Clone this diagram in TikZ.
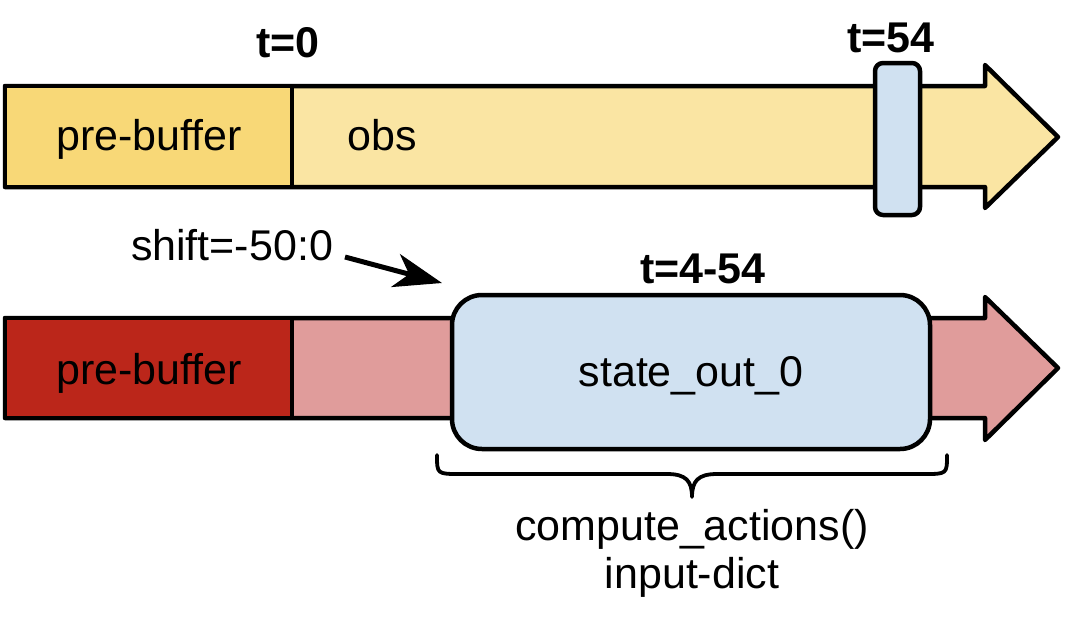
\documentclass[tikz,border=0pt]{standalone}
\usepackage{fontspec}
\setmainfont{Liberation Sans}
\usetikzlibrary{arrows.meta}
\definecolor{preY}{HTML}{F8D877}
\definecolor{obsY}{HTML}{FAE5A3}
\definecolor{preR}{HTML}{BB261A}
\definecolor{obsR}{HTML}{E09C9B}
\definecolor{boxB}{HTML}{D0E1F1}
\tikzset{
  outl/.style={draw=black, line width=4.5pt, line join=round},
  lbl/.style={inner sep=0pt, anchor=base, font=\fontsize{43}{48}\selectfont},
  blbl/.style={lbl, font=\fontsize{43}{48}\selectfont\bfseries},
}
\begin{document}
\begin{tikzpicture}[x=1pt,y=-1pt]
\useasboundingbox (0,0) rectangle (1067,616);
% top timeline
\path[outl, fill=obsY] (5,86) -- (985,86) -- (985,65) -- (1058,137) -- (985,208) -- (985,187) -- (5,187) -- cycle;
\node[outl, fill=preY, minimum width=287pt, minimum height=101pt, inner sep=0pt] (preT) at (148.5,136.5) {};
\node[lbl] (preTt) at (149,150) {pre-buffer};
\node[lbl] (obs) at (382,150) {obs};
\node[outl, fill=boxB, rounded corners=8pt, minimum width=45pt, minimum height=152pt, inner sep=0pt] (mark) at (897.5,139) {};
\node[blbl] (t0) at (288,57) {t=0};
\node[blbl] (t54) at (891,52) {t=54};
% bottom timeline
\path[outl, fill=obsR] (5,318) -- (985,318) -- (985,297) -- (1058,368) -- (985,440) -- (985,418) -- (5,418) -- cycle;
\node[outl, fill=preR, minimum width=287pt, minimum height=100pt, inner sep=0pt] (preB) at (148.5,368) {};
\node[lbl] (preBt) at (149,384) {pre-buffer};
\node[outl, fill=boxB, rounded corners=30pt, minimum width=478pt, minimum height=154pt, inner sep=0pt] (state) at (691,372) {};
\node[lbl] (statet) at (691,386) {state\_out\_0};
\node[blbl] (t454) at (703,283) {t=4-54};
% shift label and arrow
\node[lbl] (shift) at (232,260) {shift=-50:0};
\coordinate (sA) at (345,257);
\coordinate (sB) at (442,283);
\draw[line width=5pt, -{Stealth[length=48pt,width=34pt,inset=14pt]}] (sA) -- (sB);
% brace
\coordinate (bL) at (437,455);
\coordinate (bR) at (947,455);
\coordinate (bM) at (692,497);
\draw[line width=3.8pt, line cap=round, line join=round]
  (bL) .. controls (437,474) and (437,474) .. (460,474) -- (667,474)
  .. controls (686,474) and (692,481) .. (bM)
  .. controls (692,481) and (698,474) .. (717,474) -- (924,474)
  .. controls (947,474) and (947,474) .. (bR);
\node[lbl] (comp) at (692,540) {compute\_actions()};
\node[lbl] (dict) at (692,588) {input-dict};
\end{tikzpicture}
\end{document}
